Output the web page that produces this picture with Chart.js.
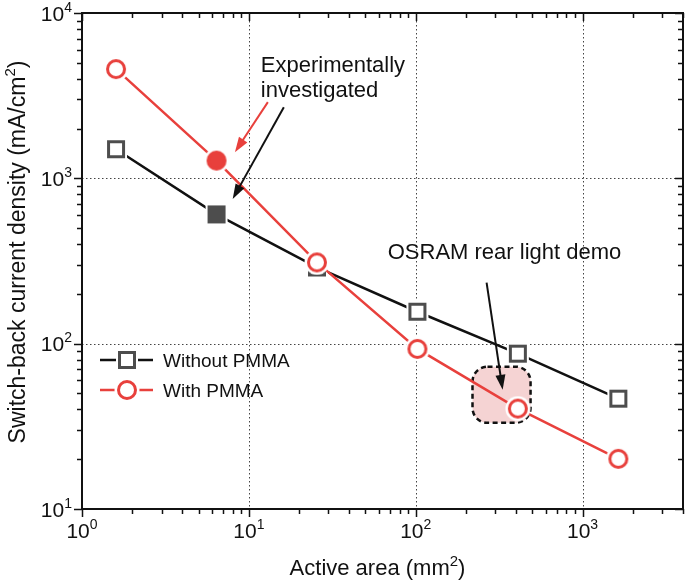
<!DOCTYPE html>
<html>
<head>
<meta charset="utf-8">
<script src="https://cdn.jsdelivr.net/npm/chart.js@4.4.0/dist/chart.umd.min.js"></script>
<style>
  html, body { margin: 0; padding: 0; background: #fff; }
</style>
</head>
<body>
<canvas id="chart" width="685" height="585"></canvas>
<script>
// data (log-log)
const areas = [1.6, 6.4, 25.6, 102.4, 409.6, 1638.4];          // mm^2
const withoutPMMA = [1500, 605, 289, 156, 87, 46.5];           // mA/cm^2
const withPMMA = [4580, 1280, 310, 93, 40.5, 20.1];            // mA/cm^2
const experimentalIndex = 1;                                   // filled markers
const xDecades = [0, 1, 2, 3];
const yDecades = [1, 2, 3, 4];
const seriesLabels = ['Without PMMA', 'With PMMA'];

const red = '#e8403c';
const dark = '#4d4d4d';
const FONT = '"Liberation Sans", Arial, Helvetica, sans-serif';

// annotation anchors, in data units
const notes = {
  expText: { x: 11.8, y: 4400 },
  redArrow: { from: [13.0, 2890], to: [8.25, 1440] },
  blackArrow: { from: [16.2, 2690], to: [8.0, 750] },
  osramText: { x: 68, y: 323 },
  osramArrow: { from: [266, 234], to: [332, 52.6] },
  osramBox: { x0: 219, x1: 488, y0: 72.6, y1: 33.2 }
};

function makeSquare(filled) {
  const c = document.createElement('canvas');
  c.width = c.height = 24;
  const g = c.getContext('2d');
  g.fillStyle = '#fff';
  g.fillRect(1, 1, 22, 22);
  g.fillStyle = filled ? dark : '#fff';
  g.fillRect(3, 3, 18, 18);
  g.strokeStyle = dark;
  g.lineWidth = 3;
  g.strokeRect(4.5, 4.5, 15, 15);
  return c;
}

function makeCircle(filled) {
  const c = document.createElement('canvas');
  c.width = c.height = 26;
  const g = c.getContext('2d');
  g.fillStyle = '#fff';
  g.beginPath(); g.arc(13, 13, 12.5, 0, Math.PI * 2); g.fill();
  g.beginPath(); g.arc(13, 13, 8.5, 0, Math.PI * 2);
  g.fillStyle = filled ? red : '#fff';
  g.fill();
  g.strokeStyle = red;
  g.lineWidth = 3;
  g.stroke();
  return c;
}

const sqOpen = makeSquare(false), sqFull = makeSquare(true);
const ciOpen = makeCircle(false), ciFull = makeCircle(true);

function logTicks(min, max) {
  const out = [];
  for (let e = Math.floor(Math.log10(min)); e <= Math.ceil(Math.log10(max)); e++) {
    for (let m = 1; m < 10; m++) {
      const v = m * Math.pow(10, e);
      if (v >= min * 0.999 && v <= max * 1.001) out.push({ v, major: m === 1 });
    }
  }
  return out;
}

// draw text pieces, some as superscript; align 'left' | 'center' | 'right'
function drawRich(ctx, parts, x, y, align, size) {
  const supSize = Math.round(size * 0.66);
  let w = 0;
  parts.forEach(p => {
    ctx.font = (p.sup ? supSize : size) + 'px ' + FONT;
    p.w = ctx.measureText(p.t).width;
    w += p.w;
  });
  let cx = align === 'center' ? x - w / 2 : align === 'right' ? x - w : x;
  ctx.textAlign = 'left';
  ctx.textBaseline = 'alphabetic';
  parts.forEach(p => {
    ctx.font = (p.sup ? supSize : size) + 'px ' + FONT;
    ctx.fillText(p.t, cx, p.sup ? y - size * 0.42 : y);
    cx += p.w;
  });
}

function arrow(ctx, x0, y0, x1, y1, color) {
  const ang = Math.atan2(y1 - y0, x1 - x0);
  const hl = 15, hw = 5;
  ctx.strokeStyle = color;
  ctx.fillStyle = color;
  ctx.lineWidth = 2;
  ctx.beginPath();
  ctx.moveTo(x0, y0);
  ctx.lineTo(x1 - Math.cos(ang) * (hl - 2), y1 - Math.sin(ang) * (hl - 2));
  ctx.stroke();
  ctx.beginPath();
  ctx.moveTo(x1, y1);
  ctx.lineTo(x1 - Math.cos(ang) * hl - Math.sin(ang) * hw, y1 - Math.sin(ang) * hl + Math.cos(ang) * hw);
  ctx.lineTo(x1 - Math.cos(ang) * hl + Math.sin(ang) * hw, y1 - Math.sin(ang) * hl - Math.cos(ang) * hw);
  ctx.closePath();
  ctx.fill();
}

const framePlugin = {
  id: 'frame',
  beforeDatasetsDraw(chart) {
    const { ctx, chartArea: a, scales: { x, y } } = chart;
    ctx.save();
    // dotted grid at decades
    ctx.strokeStyle = '#444';
    ctx.lineWidth = 1;
    ctx.setLineDash([1.5, 2.5]);
    xDecades.slice(1).forEach(e => {
      const px = Math.round(x.getPixelForValue(Math.pow(10, e))) + 0.5;
      ctx.beginPath(); ctx.moveTo(px, a.top); ctx.lineTo(px, a.bottom); ctx.stroke();
    });
    yDecades.slice(1, -1).forEach(e => {
      const py = Math.round(y.getPixelForValue(Math.pow(10, e))) + 0.5;
      ctx.beginPath(); ctx.moveTo(a.left, py); ctx.lineTo(a.right, py); ctx.stroke();
    });
    // highlighted region for the rear light demo
    const b = notes.osramBox;
    const bx0 = x.getPixelForValue(b.x0), bx1 = x.getPixelForValue(b.x1);
    const by0 = y.getPixelForValue(b.y0), by1 = y.getPixelForValue(b.y1);
    ctx.beginPath();
    ctx.roundRect(bx0, by0, bx1 - bx0, by1 - by0, 15);
    ctx.fillStyle = '#f5d3d3';
    ctx.fill();
    ctx.setLineDash([5, 3.5]);
    ctx.lineWidth = 2.5;
    ctx.strokeStyle = '#111';
    ctx.stroke();
    ctx.restore();
  },
  afterDatasetsDraw(chart) {
    const { ctx, chartArea: a, scales: { x, y } } = chart;
    ctx.save();
    ctx.strokeStyle = '#111';
    ctx.fillStyle = '#111';
    // box
    ctx.lineWidth = 2;
    ctx.strokeRect(a.left, a.top, a.right - a.left, a.bottom - a.top);
    // ticks: outside on left/bottom, inside on top/right
    ctx.lineWidth = 1.5;
    logTicks(x.min, x.max).forEach(t => {
      const px = Math.round(x.getPixelForValue(t.v)) + 0.5;
      const len = t.major ? 8 : 5;
      ctx.beginPath();
      ctx.moveTo(px, a.bottom); ctx.lineTo(px, a.bottom + len);
      ctx.moveTo(px, a.top); ctx.lineTo(px, a.top + len);
      ctx.stroke();
    });
    logTicks(y.min, y.max).forEach(t => {
      const py = Math.round(y.getPixelForValue(t.v)) + 0.5;
      const len = t.major ? 8 : 5;
      ctx.beginPath();
      ctx.moveTo(a.left, py); ctx.lineTo(a.left - len, py);
      ctx.moveTo(a.right, py); ctx.lineTo(a.right - len, py);
      ctx.stroke();
    });
    // tick labels
    xDecades.forEach(e => {
      drawRich(ctx, [{ t: '10' }, { t: String(e), sup: true }], x.getPixelForValue(Math.pow(10, e)), a.bottom + 29, 'center', 21);
    });
    yDecades.forEach(e => {
      drawRich(ctx, [{ t: '10' }, { t: String(e), sup: true }], a.left - 10, y.getPixelForValue(Math.pow(10, e)) + 7.5, 'right', 21);
    });
    // axis titles
    drawRich(ctx, [{ t: 'Active area (mm' }, { t: '2', sup: true }, { t: ')' }], (a.left + a.right) / 2 - 5, 575, 'center', 22);
    ctx.save();
    ctx.translate(25, 252);
    ctx.rotate(-Math.PI / 2);
    drawRich(ctx, [{ t: 'Switch-back current density (mA/cm' }, { t: '2', sup: true }, { t: ')' }], 0, 0, 'center', 23);
    ctx.restore();
    // legend
    const rows = [
      { label: seriesLabels[0], color: '#111', img: sqOpen, y: 360 },
      { label: seriesLabels[1], color: red, img: ciOpen, y: 390 }
    ];
    rows.forEach(r => {
      ctx.strokeStyle = r.color;
      ctx.lineWidth = 2.5;
      ctx.beginPath(); ctx.moveTo(a.left + 18, r.y); ctx.lineTo(a.left + 71, r.y); ctx.stroke();
      ctx.drawImage(r.img, Math.round(a.left + 45 - r.img.width / 2), Math.round(r.y - r.img.height / 2));
      ctx.fillStyle = '#111';
      drawRich(ctx, [{ t: r.label }], a.left + 81, r.y + 7, 'left', 19);
    });
    // annotations
    const P = (d) => [x.getPixelForValue(d[0]), y.getPixelForValue(d[1])];
    const ex = x.getPixelForValue(notes.expText.x), ey = y.getPixelForValue(notes.expText.y);
    ctx.fillStyle = '#111';
    drawRich(ctx, [{ t: 'Experimentally' }], ex, ey, 'left', 22);
    drawRich(ctx, [{ t: 'investigated' }], ex, ey + 25, 'left', 22);
    let f = P(notes.redArrow.from), t = P(notes.redArrow.to);
    arrow(ctx, f[0], f[1], t[0], t[1], red);
    f = P(notes.blackArrow.from); t = P(notes.blackArrow.to);
    arrow(ctx, f[0], f[1], t[0], t[1], '#111');
    ctx.fillStyle = '#111';
    drawRich(ctx, [{ t: 'OSRAM rear light demo' }], x.getPixelForValue(notes.osramText.x), y.getPixelForValue(notes.osramText.y), 'left', 22);
    f = P(notes.osramArrow.from); t = P(notes.osramArrow.to);
    arrow(ctx, f[0], f[1], t[0], t[1], '#111');
    ctx.restore();
  }
};

const ctx = document.getElementById('chart').getContext('2d');
new Chart(ctx, {
  type: 'line',
  data: {
    datasets: [
      {
        label: seriesLabels[1],
        data: areas.map((a, i) => ({ x: a, y: withPMMA[i] })),
        borderColor: red,
        borderWidth: 2.5,
        pointStyle: areas.map((_, i) => i === experimentalIndex ? ciFull : ciOpen),
        pointRadius: 10,
        tension: 0
      },
      {
        label: seriesLabels[0],
        data: areas.map((a, i) => ({ x: a, y: withoutPMMA[i] })),
        borderColor: '#111',
        borderWidth: 2.5,
        pointStyle: areas.map((_, i) => i === experimentalIndex ? sqFull : sqOpen),
        pointRadius: 10,
        tension: 0
      }
    ]
  },
  options: {
    responsive: false,
    animation: false,
    layout: { autoPadding: false, padding: { top: 13, right: 2, left: 0, bottom: 0 } },
    plugins: { legend: { display: false }, tooltip: { enabled: false } },
    scales: {
      x: {
        type: 'logarithmic', min: 1, max: 4000,
        ticks: { display: false }, grid: { display: false }, border: { display: false },
        afterFit: s => { s.height = 76; }
      },
      y: {
        type: 'logarithmic', min: 10, max: 10000,
        ticks: { display: false }, grid: { display: false }, border: { display: false },
        afterFit: s => { s.width = 82; }
      }
    }
  },
  plugins: [framePlugin]
});
</script>
</body>
</html>
